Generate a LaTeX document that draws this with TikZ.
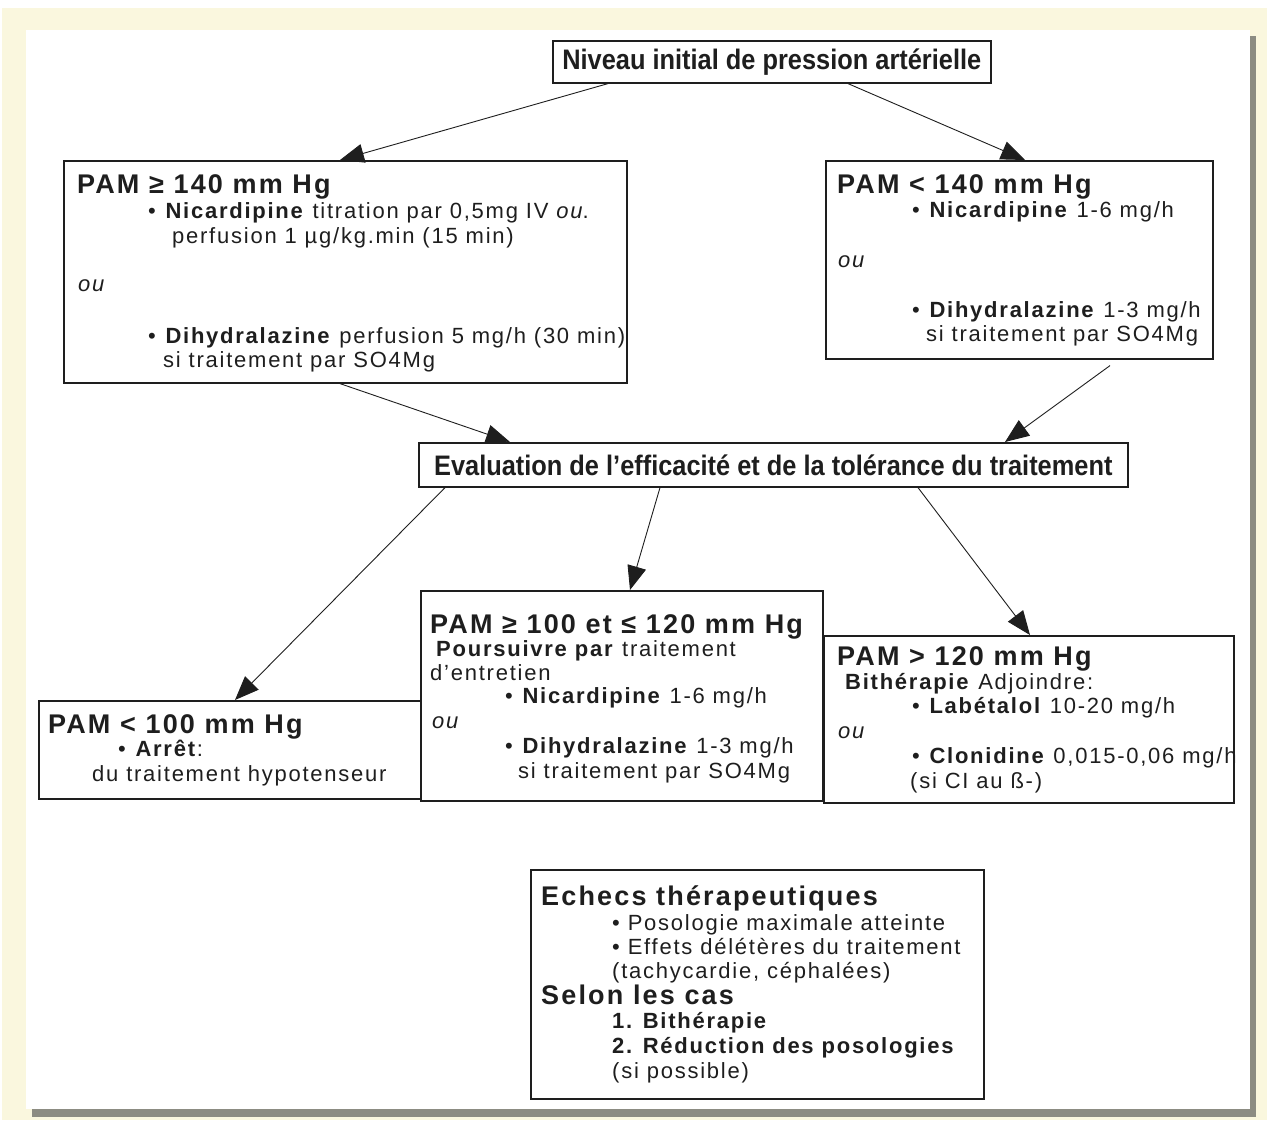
\documentclass[tikz,border=0pt]{standalone}
\usepackage{fontspec}
\setmainfont{Liberation Sans}[LetterSpace=8]
\newfontfamily\narrowfont[FakeStretch=0.9]{Liberation Sans}
\usetikzlibrary{arrows.meta}
\definecolor{paper}{RGB}{250,247,222}
\definecolor{shadowc}{RGB}{140,140,130}
\definecolor{ink}{RGB}{30,30,30}
\begin{document}
\begin{tikzpicture}[x=1pt,y=-1pt,
  box/.style={draw=ink, line width=1.6pt, fill=white, anchor=north west, inner sep=0pt},
  arr/.style={draw=ink, line width=0.9pt, -{Triangle[length=24pt,width=19pt]}},
  txt/.style={anchor=base west, inner sep=0pt, text=ink, font=\fontsize{22}{25}\selectfont},
  head/.style={anchor=base west, inner sep=0pt, text=ink, font=\fontsize{27}{29}\selectfont\bfseries},
  titlebox/.style={box, font=\narrowfont\bfseries\fontsize{28.2}{30}\selectfont, text=ink},
]
\useasboundingbox (0,0) rectangle (1267,1120);
\fill[white] (0,0) rectangle (1267,1120);
\fill[paper] (2,8) rectangle (1267,1120);
\fill[shadowc] (32,36) rectangle (1256,1117);
\fill[white] (26,30) rectangle (1250,1109);

% boxes
\node[titlebox, minimum width=438pt, minimum height=42pt] (top) at (552,40) {Niveau initial de pression artérielle};
\node[box, minimum width=563pt, minimum height=222pt] (A) at (63,160) {};
\node[box, minimum width=387pt, minimum height=198pt] (B) at (825,160) {};
\node[titlebox, minimum width=709pt, minimum height=44pt] (E0) at (418,442) {Evaluation de l’efficacité et de la tolérance du traitement};
\node[box, minimum width=420pt, minimum height=98pt] (C) at (38,700) {};
\node[box, minimum width=402pt, minimum height=210pt] (D) at (420,590) {};
\node[box, minimum width=410pt, minimum height=167pt] (E) at (823,635) {};
\node[box, minimum width=453pt, minimum height=229pt] (F) at (530,869) {};

% box A text
\node[head] (a1) at (77,193) {PAM ≥ 140 mm Hg};
\node[txt] (a2) at (148,218) {• \textbf{Nicardipine} titration par 0,5mg IV \textit{ou}.};
\node[txt] (a3) at (172,243) {perfusion 1 µg/kg.min (15 min)};
\node[txt] (a4) at (78,291) {\textit{ou}};
\node[txt] (a5) at (148,343) {• \textbf{Dihydralazine} perfusion 5 mg/h (30 min)};
\node[txt] (a6) at (163,367) {si traitement par SO4Mg};

% box B text
\node[head] (b1) at (837,193) {PAM < 140 mm Hg};
\node[txt] (b2) at (912,217) {• \textbf{Nicardipine} 1-6 mg/h};
\node[txt] (b3) at (838,267) {\textit{ou}};
\node[txt] (b4) at (912,317) {• \textbf{Dihydralazine} 1-3 mg/h};
\node[txt] (b5) at (926,341) {si traitement par SO4Mg};

% box C text
\node[head] (c1) at (48,733) {PAM < 100 mm Hg};
\node[txt] (c2) at (118,756) {• \textbf{Arrêt}:};
\node[txt] (c3) at (92,781) {du traitement hypotenseur};
% box D drawn again on top to clip C
\node[box, minimum width=402pt, minimum height=210pt] (D2) at (420,590) {};

% box D text
\node[head] (d1) at (430,633) {PAM ≥ 100 et ≤ 120 mm Hg};
\node[txt] (d2) at (436,656) {\textbf{Poursuivre par} traitement};
\node[txt] (d3) at (430,680) {d’entretien};
\node[txt] (d4) at (505,703) {• \textbf{Nicardipine} 1-6 mg/h};
\node[txt] (d5) at (432,728) {\textit{ou}};
\node[txt] (d6) at (505,753) {• \textbf{Dihydralazine} 1-3 mg/h};
\node[txt] (d7) at (518,778) {si traitement par SO4Mg};

% box E text
\node[head] (e1) at (837,665) {PAM > 120 mm Hg};
\node[txt] (e2) at (845,689) {\textbf{Bithérapie} Adjoindre:};
\node[txt] (e3) at (912,713) {• \textbf{Labétalol} 10-20 mg/h};
\node[txt] (e4) at (838,738) {\textit{ou}};
\node[txt] (e5) at (912,763) {• \textbf{Clonidine} 0,015-0,06 mg/h};
\node[txt] (e6) at (910,788) {(si CI au ß-)};

% box F text
\node[head] (f1) at (541,905) {Echecs thérapeutiques};
\node[txt] (f2) at (612,930) {• Posologie maximale atteinte};
\node[txt] (f3) at (612,954) {• Effets délétères du traitement};
\node[txt] (f4) at (612,978) {(tachycardie, céphalées)};
\node[head] (f5) at (541,1004) {Selon les cas};
\node[txt, font=\fontsize{22}{25}\selectfont\bfseries] (f6) at (612,1028) {1. Bithérapie};
\node[txt, font=\fontsize{22}{25}\selectfont\bfseries] (f7) at (612,1053) {2. Réduction des posologies};
\node[txt] (f8) at (612,1078) {(si possible)};

% arrows
\draw[arr] ([xshift=56pt]top.south west) -- ([xshift=277pt]A.north west);
\draw[arr] ([xshift=296pt]top.south west) -- ([xshift=200pt]B.north west);
\draw[arr] ([xshift=277pt]A.south west) -- ([xshift=92pt]E0.north west);
\draw[arr] ([xshift=285pt,yshift=-6pt]B.south west) -- ([xshift=587pt]E0.north west);
\draw[arr] ([xshift=27pt]E0.south west) -- ([xshift=197pt]C.north west);
\draw[arr] ([xshift=242pt]E0.south west) -- ([xshift=210pt]D.north west);
\draw[arr] ([xshift=500pt]E0.south west) -- ([xshift=207pt]E.north west);
\end{tikzpicture}
\end{document}
